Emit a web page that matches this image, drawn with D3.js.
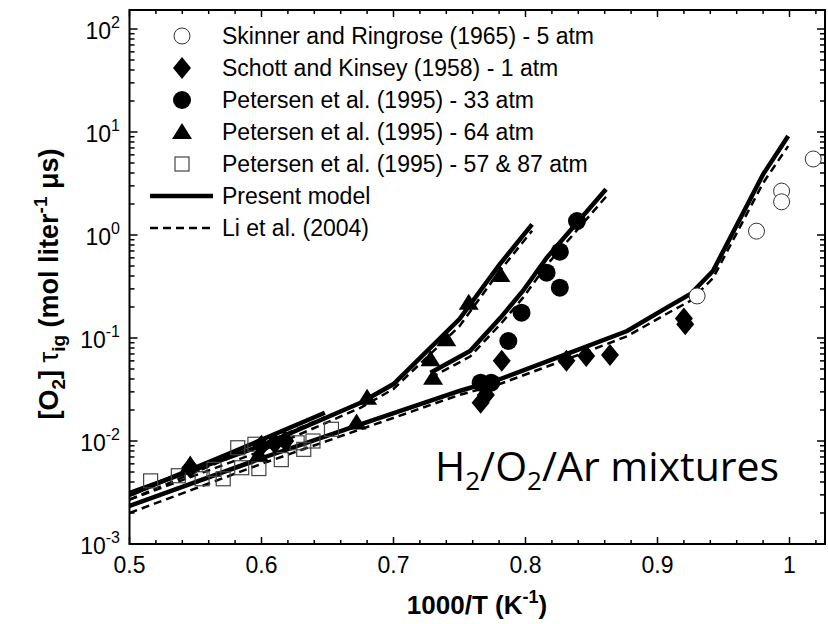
<!DOCTYPE html>
<html>
<head>
<meta charset="utf-8">
<script src="https://cdn.jsdelivr.net/npm/d3@7"></script>
<style>
  body { margin: 0; background: #fff; }
  text { font-family: "Liberation Sans", Arial, sans-serif; }
</style>
</head>
<body>
<script>
// Chart size
var width = 828,
    height = 624;

// Plot frame (pixels)
var frame = {left: 129.5, right: 825, top: 10, bottom: 544};

// ---- Data ----
// Skinner and Ringrose (1965) - 5 atm
var skinnerX = [1.018, 0.994, 0.994, 0.975, 0.930];
var skinnerY = [5.47, 2.67, 2.10, 1.09, 0.256];

// Schott and Kinsey (1958) - 1 atm
var schottX = [0.546, 0.600, 0.610, 0.618, 0.766, 0.770, 0.782, 0.831, 0.846, 0.864, 0.921, 0.920];
var schottY = [0.0055, 0.0090, 0.0095, 0.0100, 0.0235, 0.0280, 0.0600, 0.0600, 0.0670, 0.0685, 0.136, 0.155];

// Petersen et al. (1995) - 33 atm
var pet33X = [0.766, 0.774, 0.787, 0.797, 0.826, 0.816, 0.826, 0.839];
var pet33Y = [0.0368, 0.0368, 0.0935, 0.176, 0.308, 0.431, 0.689, 1.367];

// Petersen et al. (1995) - 64 atm
var pet64X = [0.546, 0.598, 0.672, 0.680, 0.730, 0.728, 0.740, 0.757, 0.781];
var pet64Y = [0.0059, 0.0074, 0.0151, 0.0263, 0.0412, 0.0621, 0.097, 0.220, 0.409];

// Petersen et al. (1995) - 57 & 87 atm
var pet57X = [0.516, 0.537, 0.555, 0.564, 0.571, 0.582, 0.585, 0.595, 0.598, 0.615, 0.627, 0.632, 0.639, 0.653];
var pet57Y = [0.0041, 0.0046, 0.0043, 0.0053, 0.0043, 0.0086, 0.0055, 0.0093, 0.0054, 0.0066, 0.0096, 0.0083, 0.0100, 0.0130];

// Model curves: present model (solid) and Li et al. (2004) (dashed)
var lowX = [0.500, 0.600, 0.675, 0.750, 0.781, 0.834, 0.877, 0.907, 0.925, 0.942, 0.980, 0.999];
var lowPresent = [0.00234, 0.0068, 0.0145, 0.0306, 0.040, 0.072, 0.117, 0.197, 0.267, 0.447, 3.88, 9.15];
var lowLi = [0.00200, 0.0060, 0.0130, 0.0280, 0.036, 0.064, 0.104, 0.172, 0.230, 0.380, 3.20, 7.30];

var mid64X = [0.500, 0.600, 0.675, 0.700, 0.750, 0.780, 0.805];
var mid64Present = [0.00313, 0.0090, 0.0235, 0.0357, 0.153, 0.51, 1.27];
var mid64Li = [0.00270, 0.0080, 0.0210, 0.0320, 0.130, 0.44, 1.10];

var hp57X = [0.500, 0.575, 0.648];
var hp57Present = [0.0030, 0.0075, 0.0188];
var hp57Li = [0.0027, 0.0068, 0.0170];

var p33X = [0.728, 0.758, 0.781, 0.798, 0.816, 0.861];
var p33Present = [0.046, 0.0748, 0.157, 0.286, 0.60, 2.78];
var p33Li = [0.041, 0.066, 0.136, 0.245, 0.51, 2.35];

// Tick values
var xTicks = [0.5, 0.6, 0.7, 0.8, 0.9, 1.0];
var xTickLabels = ["0.5", "0.6", "0.7", "0.8", "0.9", "1"];
var yDecades = [-3, -2, -1, 0, 1, 2];

// Legend entries
var legendNames = [
  "Skinner and Ringrose (1965) - 5 atm",
  "Schott and Kinsey (1958) - 1 atm",
  "Petersen et al. (1995) - 33 atm",
  "Petersen et al. (1995) - 64 atm",
  "Petersen et al. (1995) - 57 & 87 atm",
  "Present model",
  "Li et al. (2004)"
];
var legendKinds = ["openCircle", "diamond", "circle", "triangle", "square", "solid", "dashed"];

// ---- Scales ----
var x = d3.scaleLinear()
    .domain([0.5, 1.0])
    .range([frame.left, 789.5]);

var y = d3.scaleLog()
    .domain([1e-3, 1e2])
    .range([frame.bottom, 29]);

var svg = d3.select("body").append("svg")
    .attr("width", width)
    .attr("height", height)
    .style("display", "block");

svg.append("rect")
    .attr("width", width)
    .attr("height", height)
    .attr("fill", "#fff");

// Clip so curves stay in the frame
svg.append("clipPath").attr("id", "clip")
  .append("rect")
    .attr("x", frame.left)
    .attr("y", frame.top)
    .attr("width", frame.right - frame.left)
    .attr("height", frame.bottom - frame.top);

// ---- Axes with inward ticks ----
var xMinor = d3.range(0.5, 1.0281, 0.02).filter(function(v) {
  return Math.abs(v * 10 - Math.round(v * 10)) > 1e-6;
});

var axes = svg.append("g").attr("class", "axes");

function tickGroup(vals, len, side) {
  vals.forEach(function(v) {
    if (side == "x") {
      var px = x(v);
      if (px > frame.right + 0.5) return;
      axes.append("line").attr("x1", px).attr("x2", px)
        .attr("y1", frame.bottom).attr("y2", frame.bottom - len);
      axes.append("line").attr("x1", px).attr("x2", px)
        .attr("y1", frame.top).attr("y2", frame.top + len);
    } else {
      var py = y(v);
      if (py < frame.top - 0.5) return;
      axes.append("line").attr("y1", py).attr("y2", py)
        .attr("x1", frame.left).attr("x2", frame.left + len);
      axes.append("line").attr("y1", py).attr("y2", py)
        .attr("x1", frame.right).attr("x2", frame.right - len);
    }
  });
}

tickGroup(xTicks, 7, "x");
tickGroup(xMinor, 4, "x");

var yMajor = yDecades.map(function(e) { return Math.pow(10, e); });
var yMinor = [];
yDecades.forEach(function(e) {
  for (var k = 2; k <= 9; k++) yMinor.push(k * Math.pow(10, e));
});
tickGroup(yMajor, 8, "y");
tickGroup(yMinor, 5, "y");

axes.selectAll("line")
    .attr("stroke", "#000")
    .attr("stroke-width", 1.5);

svg.append("rect")
    .attr("x", frame.left)
    .attr("y", frame.top)
    .attr("width", frame.right - frame.left)
    .attr("height", frame.bottom - frame.top)
    .attr("fill", "none")
    .attr("stroke", "#000")
    .attr("stroke-width", 2);

// X tick labels
svg.append("g").selectAll("text")
    .data(xTicks)
    .enter().append("text")
    .attr("x", function(d) { return x(d); })
    .attr("y", 573)
    .attr("text-anchor", "middle")
    .attr("font-size", 23)
    .text(function(d, i) { return xTickLabels[i]; });

// Y tick labels (10^n)
var yLab = svg.append("g").selectAll("text")
    .data(yDecades)
    .enter().append("text")
    .attr("x", 120)
    .attr("y", function(d) { return y(Math.pow(10, d)) + 10; })
    .attr("text-anchor", "end")
    .attr("font-size", 23);
yLab.append("tspan").text("10");
yLab.append("tspan")
    .attr("dy", -11)
    .attr("font-size", 16)
    .text(function(d) { return d; });

// Axis titles
var xTitle = svg.append("text")
    .attr("x", 477)
    .attr("y", 614)
    .attr("text-anchor", "middle")
    .attr("font-size", 26)
    .attr("font-weight", "bold");
xTitle.append("tspan").text("1000/T (K");
xTitle.append("tspan").attr("dy", -11).attr("font-size", 18).text("-1");
xTitle.append("tspan").attr("dy", 11).text(")");

var yTitle = svg.append("text")
    .attr("transform", "translate(58,284) rotate(-90)")
    .attr("text-anchor", "middle")
    .attr("font-size", 27)
    .attr("font-weight", "bold");
yTitle.append("tspan").text("[O");
yTitle.append("tspan").attr("dy", 7).attr("font-size", 19).text("2");
yTitle.append("tspan").attr("dy", -7).text("] ");
yTitle.append("tspan").attr("font-weight", "normal").text("\u03c4");
yTitle.append("tspan").attr("dy", 7).attr("font-size", 19).text("ig");
yTitle.append("tspan").attr("dy", -7).text(" (mol liter");
yTitle.append("tspan").attr("dy", -11).attr("font-size", 19).text("-1");
yTitle.append("tspan").attr("dy", 11).text(" \u03bcs)");

// ---- Model curves ----
var line = d3.line()
    .x(function(d) { return x(d[0]); })
    .y(function(d) { return y(d[1]); });

var curves = svg.append("g").attr("clip-path", "url(#clip)");

function drawCurve(xs, ys, dashed) {
  curves.append("path")
    .datum(d3.zip(xs, ys))
    .attr("fill", "none")
    .attr("stroke", "#000")
    .attr("stroke-width", dashed ? 2.5 : 4.5)
    .attr("stroke-dasharray", dashed ? "8,5" : null)
    .attr("d", line);
}

[[lowX, lowPresent, lowLi], [mid64X, mid64Present, mid64Li],
 [hp57X, hp57Present, hp57Li], [p33X, p33Present, p33Li]].forEach(function(c) {
  drawCurve(c[0], c[2], true);
  drawCurve(c[0], c[1], false);
});

// ---- Markers ----
var symbols = {
  openCircle: function(g) { g.append("circle").attr("r", 8).attr("fill", "#fff").attr("stroke", "#333").attr("stroke-width", 1); },
  circle: function(g) { g.append("circle").attr("r", 9).attr("fill", "#000"); },
  diamond: function(g) { g.append("path").attr("d", "M0,-11L9,0L0,11L-9,0Z").attr("fill", "#000"); },
  triangle: function(g) { g.append("path").attr("d", "M0,-9L10,7L-10,7Z").attr("fill", "#000"); },
  square: function(g) { g.append("rect").attr("x", -7).attr("y", -7).attr("width", 14).attr("height", 14).attr("fill", "none").attr("stroke", "#444").attr("stroke-width", 1.2); }
};

function drawPoints(xs, ys, kind) {
  var pts = svg.append("g").attr("clip-path", "url(#clip)")
    .selectAll("g")
    .data(d3.zip(xs, ys))
    .enter().append("g")
    .attr("transform", function(d) { return "translate(" + x(d[0]) + "," + y(d[1]) + ")"; });
  pts.each(function() { symbols[kind](d3.select(this)); });
}

drawPoints(pet57X, pet57Y, "square");
drawPoints(skinnerX, skinnerY, "openCircle");
drawPoints(schottX, schottY, "diamond");
drawPoints(pet64X, pet64Y, "triangle");
drawPoints(pet33X, pet33Y, "circle");

// ---- Legend ----
var legend = svg.append("g").attr("class", "legend");
legendNames.forEach(function(name, i) {
  var row = legend.append("g")
      .attr("transform", "translate(0," + (36 + i * 32) + ")");
  var kind = legendKinds[i];
  if (kind == "solid" || kind == "dashed") {
    row.append("line")
      .attr("x1", 150).attr("x2", 213)
      .attr("stroke", "#000")
      .attr("stroke-width", kind == "solid" ? 4.5 : 2.5)
      .attr("stroke-dasharray", kind == "dashed" ? "8,5" : null);
  } else {
    var m = row.append("g").attr("transform", "translate(182,0)");
    symbols[kind](m);
  }
  row.append("text")
    .attr("x", 222)
    .attr("y", 8)
    .attr("font-size", 23)
    .text(name);
});

// ---- Annotation (humanist font, as in the original) ----
var note = svg.append("text")
    .attr("x", 435)
    .attr("y", 481)
    .style("font-family", "'Open Sans', 'Noto Sans', sans-serif")
    .attr("font-size", 41);
note.append("tspan").text("H");
note.append("tspan").attr("dy", 9).attr("font-size", 26).text("2");
note.append("tspan").attr("dy", -9).text("/O");
note.append("tspan").attr("dy", 9).attr("font-size", 26).text("2");
note.append("tspan").attr("dy", -9).text("/Ar mixtures");
</script>
</body>
</html>
